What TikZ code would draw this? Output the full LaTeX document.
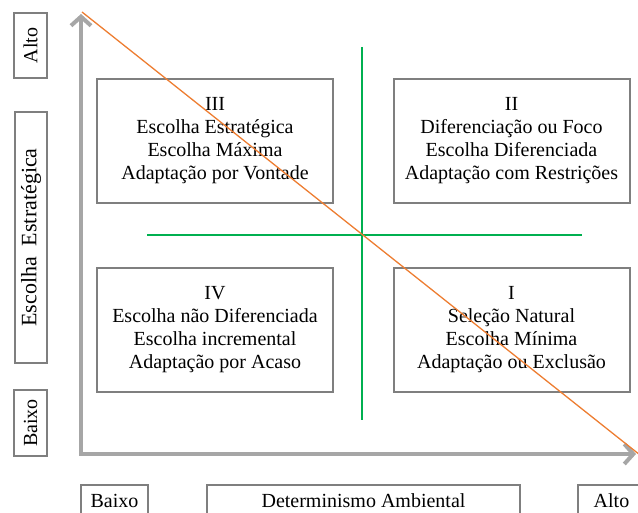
\documentclass[tikz,border=0pt]{standalone}
\usepackage{fontspec}
\setmainfont{Liberation Serif}
\usetikzlibrary{arrows.meta}

\definecolor{axisgray}{RGB}{166,166,166}
\definecolor{boxgray}{RGB}{127,127,127}
\definecolor{quadgreen}{RGB}{0,176,80}
\definecolor{diagorange}{RGB}{237,125,49}

\tikzset{
  quadbox/.style={draw=boxgray, line width=2pt, minimum width=236pt, minimum height=124pt,
    align=center, inner sep=0pt, font=\fontsize{20}{23}\selectfont},
  labelbox/.style={draw=boxgray, line width=2pt, inner sep=0pt, font=\fontsize{20}{23}\selectfont},
  axisline/.style={axisgray, line width=4pt,
    {Straight Barb[length=9pt,width=20pt]}-{Straight Barb[length=9pt,width=20pt]}},
}

\begin{document}
\begin{tikzpicture}[x=1pt,y=-1pt]
\useasboundingbox (0,0) rectangle (638,513);

% axes
\coordinate (o) at (81,454);
\coordinate (ytop) at (81,14);
\coordinate (xend) at (636,454);
\draw[axisline] (ytop) -- (o) -- (xend);

% quadrants
\node[quadbox] (q3) at (215,141) {III\\Escolha Estratégica\\Escolha Máxima\\Adaptação por Vontade};
\node[quadbox] (q2) at (511.5,141) {II\\Diferenciação ou Foco\\Escolha Diferenciada\\Adaptação com Restrições};
\node[quadbox] (q4) at (215,330) {IV\\Escolha não Diferenciada\\Escolha incremental\\Adaptação por Acaso};
\node[quadbox] (q1) at (511.5,330) {I\\Seleção Natural\\Escolha Mínima\\Adaptação ou Exclusão};

% dividing cross
\coordinate (vtop) at (362,47);
\coordinate (vbot) at (362,420);
\coordinate (hleft) at (147,235);
\coordinate (hright) at (582,235);
\draw[quadgreen, line width=2pt] (vtop) -- (vbot);
\draw[quadgreen, line width=2pt] (hleft) -- (hright);

% diagonal
\coordinate (dstart) at (82,12);
\coordinate (dend) at (640,455);
\draw[diagorange, line width=1.3pt] (dstart) -- (dend);

% vertical axis labels
\node[labelbox, rotate=90, minimum width=65pt, minimum height=33pt] (yhigh) at (30.5,45.5) {Alto};
\node[labelbox, rotate=90, minimum width=251pt, minimum height=32pt,
  font=\fontsize{22}{25}\selectfont] (ylabel) at (31,237.5) {Escolha\ \ Estratégica};
\node[labelbox, rotate=90, minimum width=66pt, minimum height=33pt] (ylow) at (30.5,423) {Baixo};

% horizontal axis labels
\node[labelbox, minimum width=67pt, minimum height=32pt] (xlow) at (114.5,501) {Baixo};
\node[labelbox, minimum width=313pt, minimum height=32pt] (xlabel) at (363.5,501) {Determinismo Ambiental};
\node[labelbox, minimum width=67pt, minimum height=32pt] (xhigh) at (611.5,501) {Alto};
\end{tikzpicture}
\end{document}
